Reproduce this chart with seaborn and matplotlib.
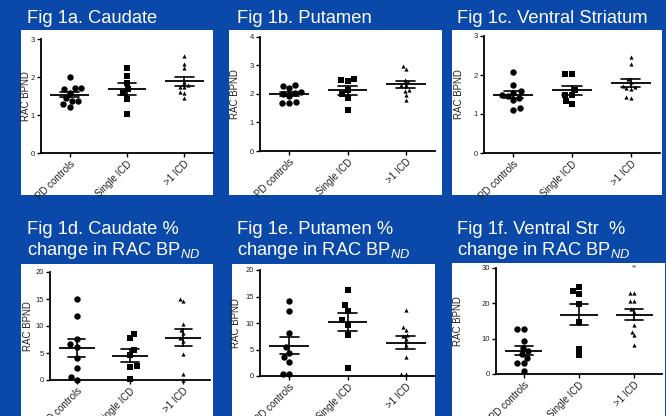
import numpy as np
import pandas as pd
import matplotlib
matplotlib.use("Agg")
import matplotlib.pyplot as plt
from matplotlib.patches import Rectangle
import seaborn as sns

groups = ["PD controls", "Single ICD", ">1 ICD"]
markers = ["o", "s", "^"]

# values, one list per group and region
caudate_pd = [2.0, 1.7, 1.68, 1.72, 1.58, 1.45, 1.38, 1.38, 1.28, 1.22]
caudate_single = [2.25, 2.03, 1.85, 1.68, 1.57, 1.43, 1.02]
caudate_multi = [2.56, 2.34, 2.23, 1.88, 1.78, 1.75, 1.73, 1.6, 1.57, 1.44]

putamen_pd = [2.31, 2.27, 2.2, 2.08, 2.05, 1.92, 1.73, 1.7, 1.69, 2.0]
putamen_single = [2.52, 2.5, 2.45, 2.15, 1.99, 1.85, 1.45]
putamen_multi = [2.97, 2.87, 2.5, 2.42, 2.32, 2.3, 2.15, 2.12, 1.98, 1.78]

vstr_pd = [2.08, 1.75, 1.58, 1.55, 1.5, 1.45, 1.42, 1.35, 1.15, 1.1]
vstr_single = [2.03, 2.02, 1.62, 1.5, 1.48, 1.33, 1.25]
vstr_multi = [2.45, 2.29, 1.9, 1.82, 1.72, 1.68, 1.66, 1.65, 1.43, 1.42]

caudate_pct_pd = [15.0, 11.8, 7.6, 6.6, 6.2, 4.0, 2.3, 0.6, 0.0]
caudate_pct_single = [8.6, 7.7, 5.5, 4.6, 2.6, 2.5, 0.2]
caudate_pct_multi = [15.0, 14.6, 10.3, 9.3, 8.7, 7.7, 7.2, 4.8, 1.1, 0.0]

putamen_pct_pd = [14.2, 12.2, 8.2, 5.5, 4.4, 3.5, 2.7, 0.45, 0.3]
putamen_pct_single = [16.2, 13.4, 12.3, 10.5, 9.7, 7.7, 1.5]
putamen_pct_multi = [12.5, 9.2, 8.6, 7.5, 7.8, 6.9, 5.8, 3.5, 0.4, 0.3]

vstr_pct_pd = [12.8, 12.6, 9.2, 7.4, 6.4, 5.6, 4.5, 3.1, 3.0, 0.9]
vstr_pct_single = [24.6, 23.4, 22.6, 19.9, 14.6, 7.2, 5.3]
vstr_pct_multi = [22.9, 22.8, 20.8, 20.7, 18.3, 17.5, 14.0, 12.0, 11.1, 8.1]

titles = [
    ["Fig 1a. Caudate"],
    ["Fig 1b. Putamen"],
    ["Fig 1c. Ventral Striatum"],
    ["Fig 1d. Caudate %", "change in RAC BP$_{ND}$"],
    ["Fig 1e. Putamen %", "change in RAC BP$_{ND}$"],
    ["Fig 1f. Ventral Str  %", "change in RAC BP$_{ND}$"],
]
y_ticks = [[0, 1, 2, 3], [0, 1, 2, 3, 4], [0, 1, 2, 3],
           [0, 5, 10, 15, 20], [0, 5, 10, 15, 20], [0, 10, 20, 30]]

panel_data = [
    [caudate_pd, caudate_single, caudate_multi],
    [putamen_pd, putamen_single, putamen_multi],
    [vstr_pd, vstr_single, vstr_multi],
    [caudate_pct_pd, caudate_pct_single, caudate_pct_multi],
    [putamen_pct_pd, putamen_pct_single, putamen_pct_multi],
    [vstr_pct_pd, vstr_pct_single, vstr_pct_multi],
]

sns.set_theme(style="ticks")
plt.rcParams["font.family"] = ["Liberation Sans", "DejaVu Sans"]
plt.rcParams["mathtext.fontset"] = "custom"
plt.rcParams["mathtext.rm"] = "Liberation Sans"
plt.rcParams["mathtext.it"] = "Liberation Sans:italic"

W, H = 666, 416
fig = plt.figure(figsize=(W / 100, H / 100), dpi=100)
fig.patch.set_facecolor("#0a48a9")

# pixel layout: axes (x0, x1, ytop, ybottom), white box (x0, x1, ytop, ybottom),
# title x, title baselines, y-label centre x
layout = [
    ((41, 213, 39, 153), (21, 213, 30, 195), 27, [23], 26),
    ((260, 435, 37, 151), (229, 442, 30, 195), 237, [23], 235),
    ((484, 660, 36, 153), (452, 662, 30, 195), 457, [23], 459),
    ((50, 210, 272, 380), (21, 213, 264, 420), 27, [234, 255], 28),
    ((260, 435, 270, 376), (232, 435, 264, 420), 237, [234, 255], 236),
    ((496, 662, 268, 374), (452, 665, 263, 420), 457, [234, 255], 458),
]

for i, (vals, (axp, boxp, tx, tys, lx)) in enumerate(zip(panel_data, layout)):
    bx0, bx1, by0, by1 = boxp
    fig.patches.append(Rectangle((bx0 / W, 1 - by1 / H), (bx1 - bx0) / W, (by1 - by0) / H,
                                 transform=fig.transFigure, facecolor="white",
                                 edgecolor="none", zorder=-1))
    for line, ty in zip(titles[i], tys):
        fig.text(tx / W, 1 - ty / H, line, color="white", fontsize=13.2, va="baseline")

    x0, x1, y0, y1 = axp
    ax = fig.add_axes([x0 / W, 1 - y1 / H, (x1 - x0) / W, (y1 - y0) / H])
    ax.set_facecolor("none")

    df = pd.DataFrame({
        "group": np.repeat(groups, [len(v) for v in vals]),
        "value": np.concatenate(vals),
    })
    for g, m in zip(groups, markers):
        # lay out the swarm with roomy spacing, then shrink the dots (GraphPad look)
        sns.swarmplot(data=df[df.group == g], x="group", y="value", order=groups,
                      marker=m, color="black", size=4.6, ax=ax, clip_on=False)
        ax.collections[-1].set_sizes([3.3 ** 2 if m != "^" else 3.0 ** 2])
    stats = df.groupby("group")["value"].mean().reindex(groups)
    ax.hlines(stats.values, np.arange(3) - 0.34, np.arange(3) + 0.34,
              color="black", lw=1.3, zorder=3)
    sns.pointplot(data=df, x="group", y="value", order=groups, errorbar="se",
                  capsize=0.33, color="black", linestyle="none", marker="",
                  err_kws={"linewidth": 1.2}, ax=ax)

    ax.set_xlim(-0.5, 2.5)
    ax.set_ylim(0, y_ticks[i][-1])
    ax.set_yticks(y_ticks[i])
    ax.set_xlabel("")
    ax.set_ylabel("RAC BPND", fontsize=7, color="#222222", va="center")
    ax.yaxis.set_label_coords((lx - x0) / (x1 - x0), 0.5)
    ax.set_xticks(range(3))
    ax.set_xticklabels(groups, rotation=45, ha="right", rotation_mode="anchor")
    ax.tick_params(axis="both", length=3, width=1, colors="black", pad=1.2)
    ax.tick_params(axis="x", labelcolor="#222222", labelsize=7)
    ax.tick_params(axis="y", labelcolor="#222222", labelsize=5.5)
    for s in ["top", "right"]:
        ax.spines[s].set_visible(False)
    for s in ["left", "bottom"]:
        ax.spines[s].set_linewidth(1.3)
        ax.spines[s].set_color("black")
    if i == 5:
        ax.text(2, 30, "**", ha="center", va="center", fontsize=5, color="#444444")

fig.savefig("out.png", dpi=100, facecolor=fig.get_facecolor())
